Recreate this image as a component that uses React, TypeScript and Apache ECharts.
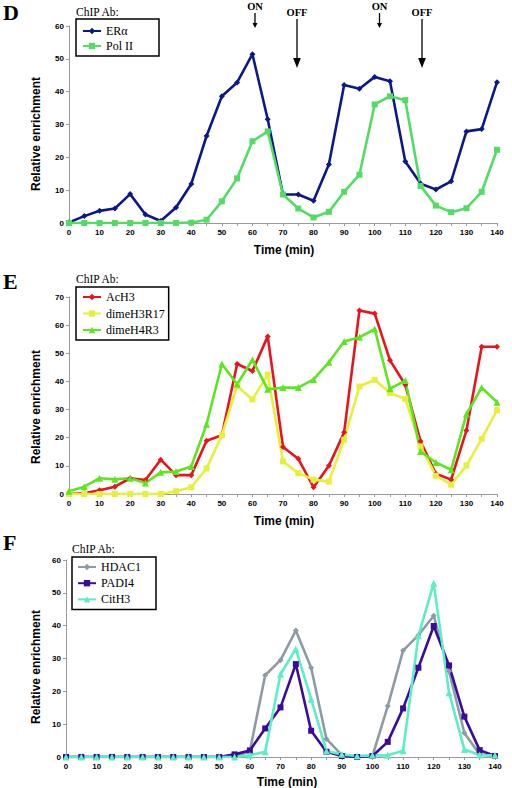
import React, { useEffect, useRef } from "react";
import * as echarts from "echarts";

const times = [0, 5, 10, 15, 20, 25, 30, 35, 40, 45, 50, 55, 60, 65, 70, 75, 80, 85, 90, 95, 100, 105, 110, 115, 120, 125, 130, 135, 140];

// Panel D
const erAlpha = [0.2, 2.1, 3.7, 4.4, 8.8, 2.6, 0.6, 4.7, 11.9, 26.5, 38.6, 42.8, 51.4, 31.6, 8.7, 8.7, 6.8, 17.8, 42.0, 40.9, 44.5, 43.2, 18.7, 12.0, 10.2, 12.7, 27.9, 28.6, 42.9];
const polII = [0, 0, 0, 0, 0, 0, 0, 0, 0.1, 1.0, 6.6, 13.6, 24.9, 27.9, 8.7, 4.4, 1.7, 3.4, 9.5, 14.7, 36.1, 38.6, 37.4, 11.3, 5.3, 3.3, 4.5, 9.5, 22.3];

// Panel E
const acH3 = [0, 0.3, 1.3, 2.6, 5.6, 5.0, 12.2, 6.7, 6.7, 18.9, 20.9, 46.2, 43.7, 56.0, 16.7, 12.5, 2.4, 10.0, 21.9, 65.2, 64.1, 47.5, 38.8, 18.7, 7.2, 5.1, 22.6, 52.3, 52.3];
const dimeH3R17 = [0, 0, 0, 0, 0, 0, 0, 1.0, 2.4, 9.1, 20.9, 38.4, 33.6, 42.4, 11.6, 7.4, 5.1, 4.4, 19.3, 38.2, 40.6, 35.9, 33.8, 16.9, 6.5, 3.3, 10.1, 19.6, 29.8];
const dimeH4R3 = [1.0, 2.6, 5.6, 5.2, 5.6, 3.9, 7.7, 8.0, 9.8, 24.8, 46.2, 39.0, 47.7, 37.2, 37.8, 37.8, 40.7, 46.8, 54.2, 55.7, 58.6, 37.4, 40.3, 15.1, 11.2, 8.6, 28.4, 37.8, 32.6];

// Panel F
const hdac1 = [0, 0, 0, 0, 0, 0, 0, 0, 0, 0, 0, 0, 1.8, 24.9, 29.5, 38.5, 27.2, 5.5, 0.6, 0, 0.3, 15.5, 32.4, 37.1, 43.0, 26.1, 7.3, 0.8, 0.3];
const padi4 = [0, 0, 0, 0, 0, 0, 0, 0, 0, 0, 0, 0.8, 2.0, 8.7, 15.1, 28.3, 8.0, 1.6, 0.3, 0, 0.3, 4.6, 14.8, 27.2, 39.9, 27.9, 12.3, 2.1, 0.3];
const citH3 = [0, 0, 0, 0, 0, 0, 0, 0, 0, 0, 0, 0, 0.5, 1.6, 25.2, 32.9, 17.6, 1.8, 0.8, 0.3, 0.5, 0.5, 1.9, 36.9, 52.9, 19.6, 2.3, 0.6, 0.5];

const yMaxes = [60, 70, 60];
const panelLetters = ["D", "E", "F"];
const legendTitle = "ChIP Ab:";
const xTitle = "Time (min)";
const yTitle = "Relative enrichment";

const SANS = "'Liberation Sans', Arial, sans-serif";
const SERIF = "'Liberation Serif', 'Times New Roman', serif";
const AXIS_GRAY = "#9a9a9a";

const pairs = (vals: number[]) => times.map((t, i) => [t, vals[i]]);

const grids = [
  { left: 69, top: 26, width: 428, height: 197 },
  { left: 69, top: 297, width: 428, height: 197 },
  { left: 66, top: 560, width: 429, height: 197 },
];

function xAxisFor(i: number) {
  return {
    type: "value",
    gridIndex: i,
    min: 0,
    max: 140,
    interval: 10,
    axisLine: { show: true, onZero: false, lineStyle: { color: AXIS_GRAY, width: 1 } },
    axisTick: { show: true, length: 3, lineStyle: { color: AXIS_GRAY } },
    minorTick: { show: true, splitNumber: 2, length: 3, lineStyle: { color: AXIS_GRAY } },
    splitLine: { show: false },
    minorSplitLine: { show: false },
    axisLabel: { fontSize: 8, fontWeight: "bold", fontFamily: SANS, color: "#000", margin: 5 },
  };
}

function yAxisFor(i: number) {
  return {
    type: "value",
    gridIndex: i,
    min: 0,
    max: yMaxes[i],
    interval: 10,
    axisLine: { show: true, lineStyle: { color: AXIS_GRAY, width: 1 } },
    axisTick: { show: true, length: 3, lineStyle: { color: AXIS_GRAY } },
    splitLine: { show: false },
    axisLabel: { fontSize: 8, fontWeight: "bold", fontFamily: SANS, color: "#000", margin: 5 },
  };
}

function lineSeries(name: string, vals: number[], idx: number, color: string, symbol: string, size: number) {
  return {
    type: "line",
    name,
    xAxisIndex: idx,
    yAxisIndex: idx,
    data: pairs(vals),
    symbol,
    symbolSize: size,
    showSymbol: true,
    lineStyle: { color, width: 2.6 },
    itemStyle: { color },
    emphasis: { disabled: true },
  };
}

function legendFor(names: string[], left: number, top: number, padding: number[], itemGap: number) {
  return {
    data: names,
    orient: "vertical",
    left,
    top,
    padding,
    itemGap,
    itemWidth: 18,
    itemHeight: 8,
    borderColor: "#000",
    borderWidth: 1.5,
    borderRadius: 0,
    backgroundColor: "#fff",
    selectedMode: false,
    textStyle: { fontFamily: SERIF, fontSize: 12, color: "#000", lineHeight: 14 },
  };
}

function arrow(x: number, textY: number, label: string, y1: number, y2: number, headLen: number, headHalf: number) {
  return {
    type: "group",
    children: [
      {
        type: "text",
        x,
        y: textY,
        style: { text: label, font: `bold 10.5px ${SERIF}`, fill: "#000", align: "center", verticalAlign: "middle" },
      },
      { type: "line", shape: { x1: x, y1, x2: x, y2: y2 - headLen + 1 }, style: { stroke: "#000", lineWidth: 1.3 } },
      {
        type: "polygon",
        shape: { points: [[x - headHalf, y2 - headLen], [x + headHalf, y2 - headLen], [x, y2]] },
        style: { fill: "#000" },
      },
    ],
  };
}

export default function App() {
  const ref = useRef<HTMLDivElement>(null);
  useEffect(() => {
    document.body.style.margin = "0";
    const chart = echarts.init(ref.current!, null, { renderer: "svg" });

    const letterYs = [12, 281, 542];
    const yTitleYs = [134, 407, 667];
    const xTitleYs = [250, 521, 782];
    const xTitleXs = [284, 284, 287];
    const chipPos = [
      [76, 12],
      [76, 279],
      [72, 549],
    ];

    const graphics: any[] = [];
    for (let i = 0; i < 3; i++) {
      graphics.push({
        type: "text",
        x: 3,
        y: letterYs[i],
        style: { text: panelLetters[i], font: `bold 22px ${SERIF}`, fill: "#000", align: "left", verticalAlign: "middle" },
      });
      graphics.push({
        type: "text",
        x: 36,
        y: yTitleYs[i],
        rotation: Math.PI / 2,
        style: { text: yTitle, font: `bold 12px ${SANS}`, fill: "#000", align: "center", verticalAlign: "middle" },
      });
      graphics.push({
        type: "text",
        x: xTitleXs[i],
        y: xTitleYs[i],
        style: { text: xTitle, font: `bold 12px ${SANS}`, fill: "#000", align: "center", verticalAlign: "middle" },
      });
      graphics.push({
        type: "text",
        x: chipPos[i][0],
        y: chipPos[i][1],
        style: { text: legendTitle, font: `11.5px ${SERIF}`, fill: "#000", align: "left", verticalAlign: "middle" },
      });
    }
    graphics.push(arrow(255, 6, "ON", 13, 28, 5, 2.5));
    graphics.push(arrow(297, 12, "OFF", 19, 68, 10, 3.8));
    graphics.push(arrow(379.5, 6, "ON", 13, 28, 5, 2.5));
    graphics.push(arrow(422, 12, "OFF", 19, 68, 10, 3.8));

    const option: any = {
      animation: false,
      backgroundColor: "#fff",
      grid: grids,
      xAxis: [xAxisFor(0), xAxisFor(1), xAxisFor(2)],
      yAxis: [yAxisFor(0), yAxisFor(1), yAxisFor(2)],
      legend: [
        legendFor(["ERα", "Pol II"], 76, 19, [5, 26, 3, 6], 1),
        legendFor(["AcH3", "dimeH3R17", "dimeH4R3"], 76, 287, [3, 4, 3, 6], 2.5),
        legendFor(["HDAC1", "PADI4", "CitH3"], 72, 557, [3, 15, 3, 5], 2.2),
      ],
      series: [
        lineSeries("ERα", erAlpha, 0, "#0c1888", "diamond", 6),
        lineSeries("Pol II", polII, 0, "#52dc64", "rect", 6),
        lineSeries("AcH3", acH3, 1, "#e8141c", "diamond", 6),
        lineSeries("dimeH3R17", dimeH3R17, 1, "#e6f03c", "rect", 6),
        lineSeries("dimeH4R3", dimeH4R3, 1, "#5ce620", "triangle", 7),
        lineSeries("HDAC1", hdac1, 2, "#8d9ca4", "diamond", 6),
        lineSeries("PADI4", padi4, 2, "#3a0c9c", "rect", 6),
        lineSeries("CitH3", citH3, 2, "#5ceec4", "triangle", 7),
      ],
      graphic: graphics,
    };
    chart.setOption(option);
    return () => chart.dispose();
  }, []);
  return <div ref={ref} style={{ width: 512, height: 788 }} />;
}
